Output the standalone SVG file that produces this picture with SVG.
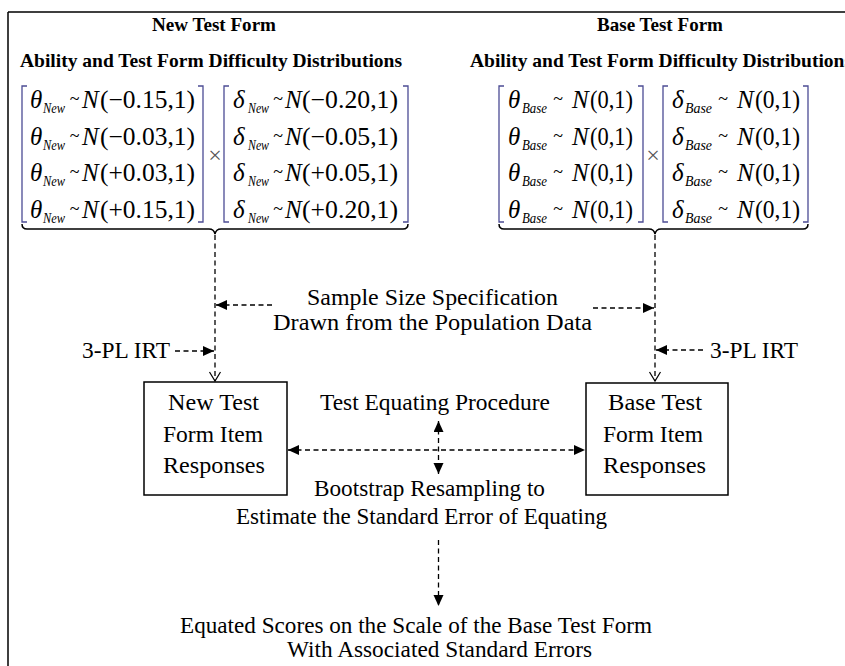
<svg xmlns="http://www.w3.org/2000/svg" width="845" height="666" viewBox="0 0 845 666">
<defs>
<marker id="fa" markerUnits="userSpaceOnUse" markerWidth="12" markerHeight="11" refX="11" refY="5" orient="auto-start-reverse"><path d="M0,0 L11,5 L0,10 z" fill="#000"/></marker>
<marker id="va" markerUnits="userSpaceOnUse" markerWidth="12" markerHeight="14" refX="10" refY="6.5" orient="auto"><path d="M1,1 L10,6.5 L1,12" fill="none" stroke="#000" stroke-width="1.2"/></marker>
<style>
text{font-family:"Liberation Serif","Times New Roman",serif;fill:#000}
.h{font-weight:bold;font-size:19.5px}
.b{font-size:23px}
.m{font-size:25px}
.mi{font-size:25px;font-style:italic}
.s{font-size:14px;font-style:italic}
.t{font-size:18px;text-anchor:middle}
.br{fill:none;stroke:#4c4c94;stroke-width:1.3}
.x{font-size:24px;fill:#555;text-anchor:middle}
.brace{fill:none;stroke:#000;stroke-width:1.5}
.box{fill:#fff;stroke:#000;stroke-width:1.5}
.d{fill:none;stroke:#000;stroke-width:1.3;stroke-dasharray:5,3.5}
</style>
</defs>
<g id="frame"><path d="M8,12 H845 M8,12 V666" fill="none" stroke="#000" stroke-width="1.5"/></g>

<g id="new-form">
<text class="h" x="152" y="31" textLength="124" lengthAdjust="spacingAndGlyphs">New Test Form</text>
<text class="h" x="20" y="67" textLength="382" lengthAdjust="spacingAndGlyphs">Ability and Test Form Difficulty Distributions</text>
<path class="br" d="M27,86 H22 V222 H27 M198,86 H203 V222 H198"/>
<path class="br" d="M229,86 H224 V222 H229 M403,86 H408 V222 H403"/>
<text class="x" x="215" y="163">×</text>
<g>
<text class="mi" x="30" y="108">θ</text><text class="s" x="43" y="113" textLength="22" lengthAdjust="spacingAndGlyphs">New</text><text class="t" x="74.5" y="105">~</text><text class="mi" x="82" y="108">N</text><text class="m" x="100" y="108" textLength="95" lengthAdjust="spacingAndGlyphs">(−0.15,1)</text>
<text class="mi" x="30" y="145">θ</text><text class="s" x="43" y="150" textLength="22" lengthAdjust="spacingAndGlyphs">New</text><text class="t" x="74.5" y="142">~</text><text class="mi" x="82" y="145">N</text><text class="m" x="100" y="145" textLength="95" lengthAdjust="spacingAndGlyphs">(−0.03,1)</text>
<text class="mi" x="30" y="181">θ</text><text class="s" x="43" y="186" textLength="22" lengthAdjust="spacingAndGlyphs">New</text><text class="t" x="74.5" y="178">~</text><text class="mi" x="82" y="181">N</text><text class="m" x="100" y="181" textLength="95" lengthAdjust="spacingAndGlyphs">(+0.03,1)</text>
<text class="mi" x="30" y="218">θ</text><text class="s" x="43" y="223" textLength="22" lengthAdjust="spacingAndGlyphs">New</text><text class="t" x="74.5" y="215">~</text><text class="mi" x="82" y="218">N</text><text class="m" x="100" y="218" textLength="95" lengthAdjust="spacingAndGlyphs">(+0.15,1)</text>
</g>
<g>
<text class="mi" x="233" y="108">δ</text><text class="s" x="248" y="113" textLength="21" lengthAdjust="spacingAndGlyphs">New</text><text class="t" x="278" y="105">~</text><text class="mi" x="285" y="108">N</text><text class="m" x="302" y="108" textLength="96" lengthAdjust="spacingAndGlyphs">(−0.20,1)</text>
<text class="mi" x="233" y="145">δ</text><text class="s" x="248" y="150" textLength="21" lengthAdjust="spacingAndGlyphs">New</text><text class="t" x="278" y="142">~</text><text class="mi" x="285" y="145">N</text><text class="m" x="302" y="145" textLength="96" lengthAdjust="spacingAndGlyphs">(−0.05,1)</text>
<text class="mi" x="233" y="181">δ</text><text class="s" x="248" y="186" textLength="21" lengthAdjust="spacingAndGlyphs">New</text><text class="t" x="278" y="178">~</text><text class="mi" x="285" y="181">N</text><text class="m" x="302" y="181" textLength="96" lengthAdjust="spacingAndGlyphs">(+0.05,1)</text>
<text class="mi" x="233" y="218">δ</text><text class="s" x="248" y="223" textLength="21" lengthAdjust="spacingAndGlyphs">New</text><text class="t" x="278" y="215">~</text><text class="mi" x="285" y="218">N</text><text class="m" x="302" y="218" textLength="96" lengthAdjust="spacingAndGlyphs">(+0.20,1)</text>
</g>
<path class="brace" d="M22,224 Q22,229 27,229 H209 Q214,229 215,234 Q216,229 221,229 H403 Q408,229 408,224"/>
</g>

<g id="base-form">
<text class="h" x="597" y="31" textLength="126" lengthAdjust="spacingAndGlyphs">Base Test Form</text>
<text class="h" x="470" y="67" textLength="382" lengthAdjust="spacingAndGlyphs">Ability and Test Form Difficulty Distributions</text>
<path class="br" d="M504,86 H499 V222 H504 M638,86 H643 V222 H638"/>
<path class="br" d="M668,86 H663 V222 H668 M803,86 H808 V222 H803"/>
<text class="x" x="653" y="163">×</text>
<g>
<text class="mi" x="508" y="108">θ</text><text class="s" x="522" y="113" textLength="25" lengthAdjust="spacingAndGlyphs">Base</text><text class="t" x="558" y="105">~</text><text class="mi" x="572" y="108">N</text><text class="m" x="590" y="108" textLength="43" lengthAdjust="spacingAndGlyphs">(0,1)</text>
<text class="mi" x="508" y="145">θ</text><text class="s" x="522" y="150" textLength="25" lengthAdjust="spacingAndGlyphs">Base</text><text class="t" x="558" y="142">~</text><text class="mi" x="572" y="145">N</text><text class="m" x="590" y="145" textLength="43" lengthAdjust="spacingAndGlyphs">(0,1)</text>
<text class="mi" x="508" y="181">θ</text><text class="s" x="522" y="186" textLength="25" lengthAdjust="spacingAndGlyphs">Base</text><text class="t" x="558" y="178">~</text><text class="mi" x="572" y="181">N</text><text class="m" x="590" y="181" textLength="43" lengthAdjust="spacingAndGlyphs">(0,1)</text>
<text class="mi" x="508" y="218">θ</text><text class="s" x="522" y="223" textLength="25" lengthAdjust="spacingAndGlyphs">Base</text><text class="t" x="558" y="215">~</text><text class="mi" x="572" y="218">N</text><text class="m" x="590" y="218" textLength="43" lengthAdjust="spacingAndGlyphs">(0,1)</text>
</g>
<g>
<text class="mi" x="672" y="108">δ</text><text class="s" x="685" y="113" textLength="27" lengthAdjust="spacingAndGlyphs">Base</text><text class="t" x="723" y="105">~</text><text class="mi" x="737" y="108">N</text><text class="m" x="755" y="108" textLength="45" lengthAdjust="spacingAndGlyphs">(0,1)</text>
<text class="mi" x="672" y="145">δ</text><text class="s" x="685" y="150" textLength="27" lengthAdjust="spacingAndGlyphs">Base</text><text class="t" x="723" y="142">~</text><text class="mi" x="737" y="145">N</text><text class="m" x="755" y="145" textLength="45" lengthAdjust="spacingAndGlyphs">(0,1)</text>
<text class="mi" x="672" y="181">δ</text><text class="s" x="685" y="186" textLength="27" lengthAdjust="spacingAndGlyphs">Base</text><text class="t" x="723" y="178">~</text><text class="mi" x="737" y="181">N</text><text class="m" x="755" y="181" textLength="45" lengthAdjust="spacingAndGlyphs">(0,1)</text>
<text class="mi" x="672" y="218">δ</text><text class="s" x="685" y="223" textLength="27" lengthAdjust="spacingAndGlyphs">Base</text><text class="t" x="723" y="215">~</text><text class="mi" x="737" y="218">N</text><text class="m" x="755" y="218" textLength="45" lengthAdjust="spacingAndGlyphs">(0,1)</text>
</g>
<path class="brace" d="M499,224 Q499,229 504,229 H649 Q654,229 655,234 Q656,229 661,229 H803 Q808,229 808,224"/>
</g>

<g id="sample-size">
<text class="b" x="307" y="305" textLength="251" lengthAdjust="spacingAndGlyphs">Sample Size Specification</text>
<text class="b" x="273" y="330" textLength="319" lengthAdjust="spacingAndGlyphs">Drawn from the Population Data</text>
</g>
<g id="irt-left"><text class="b" x="82" y="358" textLength="88" lengthAdjust="spacingAndGlyphs">3-PL IRT</text></g>
<g id="irt-right"><text class="b" x="710" y="358" textLength="88" lengthAdjust="spacingAndGlyphs">3-PL IRT</text></g>

<g id="new-responses">
<rect class="box" x="144" y="382" width="143" height="113"/>
<text class="b" x="168" y="410" textLength="91" lengthAdjust="spacingAndGlyphs">New Test</text>
<text class="b" x="163" y="441.5" textLength="100" lengthAdjust="spacingAndGlyphs">Form Item</text>
<text class="b" x="163" y="473" textLength="102" lengthAdjust="spacingAndGlyphs">Responses</text>
</g>
<g id="base-responses">
<rect class="box" x="586" y="383" width="142" height="112"/>
<text class="b" x="608" y="410" textLength="94" lengthAdjust="spacingAndGlyphs">Base Test</text>
<text class="b" x="603" y="441.5" textLength="100" lengthAdjust="spacingAndGlyphs">Form Item</text>
<text class="b" x="603" y="473" textLength="103" lengthAdjust="spacingAndGlyphs">Responses</text>
</g>
<g id="equating"><text class="b" x="320" y="410" textLength="230" lengthAdjust="spacingAndGlyphs">Test Equating Procedure</text></g>
<g id="bootstrap">
<text class="b" x="314" y="496" textLength="231" lengthAdjust="spacingAndGlyphs">Bootstrap Resampling to</text>
<text class="b" x="236" y="524" textLength="371" lengthAdjust="spacingAndGlyphs">Estimate the Standard Error of Equating</text>
</g>
<g id="result">
<text class="b" x="180" y="633" textLength="472" lengthAdjust="spacingAndGlyphs">Equated Scores on the Scale of the Base Test Form</text>
<text class="b" x="287" y="657" textLength="305" lengthAdjust="spacingAndGlyphs">With Associated Standard Errors</text>
</g>

<g id="connectors">
<line class="d" x1="215" y1="235" x2="215" y2="381" marker-end="url(#va)"/>
<line class="d" x1="655" y1="235" x2="655" y2="381" marker-end="url(#va)"/>
<line class="d" x1="272" y1="305" x2="216" y2="305" marker-end="url(#fa)"/>
<line class="d" x1="593" y1="308" x2="654" y2="308" marker-end="url(#fa)"/>
<line class="d" x1="175" y1="351" x2="214" y2="351" marker-end="url(#fa)"/>
<line class="d" x1="703" y1="350" x2="656" y2="350" marker-end="url(#fa)"/>
<line class="d" x1="288" y1="450" x2="585" y2="450" marker-start="url(#fa)" marker-end="url(#fa)"/>
<line class="d" x1="438.5" y1="421" x2="438.5" y2="474" marker-start="url(#fa)" marker-end="url(#fa)"/>
<line class="d" x1="438.5" y1="540" x2="438.5" y2="606" marker-end="url(#fa)"/>
</g>
</svg>
